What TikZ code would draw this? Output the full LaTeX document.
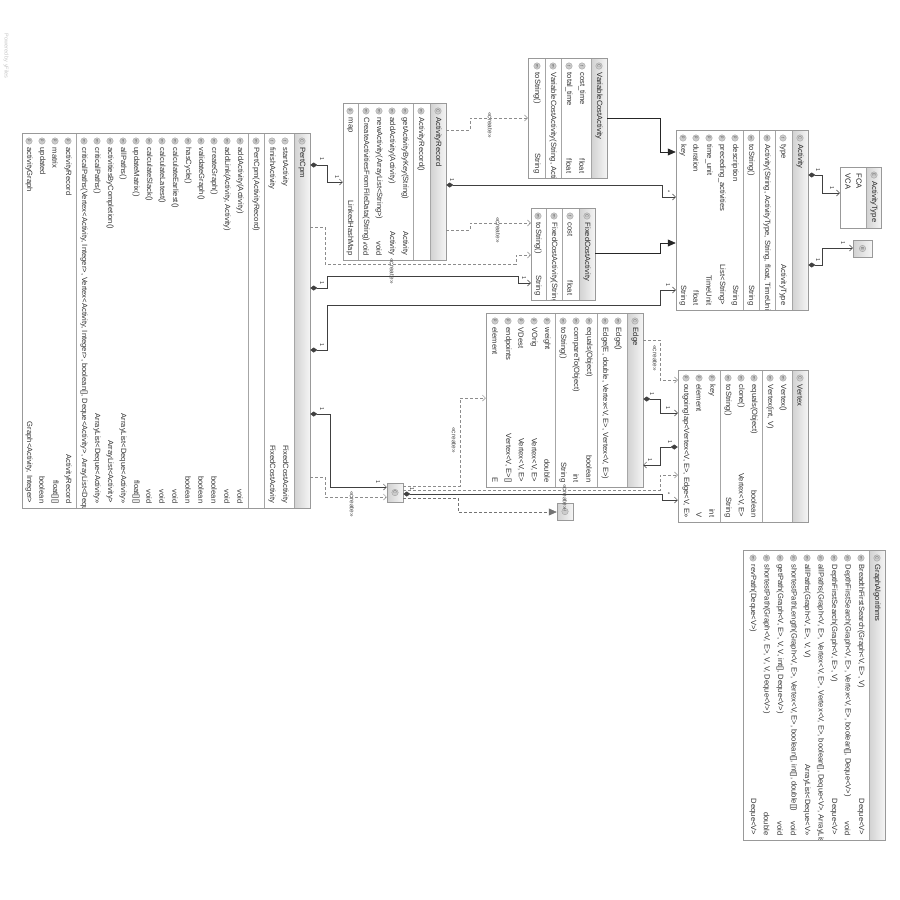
\documentclass[tikz,border=0pt]{standalone}
\usepackage{fontspec}
\setmainfont{Liberation Sans}
\usetikzlibrary{arrows.meta,fit}

\begin{document}
\begin{tikzpicture}[x=1pt,y=-1pt,font=\fontsize{7.6}{8.5}\selectfont,
  clsbox/.style={draw=black!40,fill=white,inner sep=0pt,line width=0.5pt},
  hdr/.style={left color=black!18,right color=black!4},
  sepline/.style={black!35,line width=0.4pt},
  ico/.style={circle,fill=black!20,draw=black!40,line width=0.3pt,inner sep=0pt,minimum size=6.5pt,
    font=\fontsize{4.2}{4.2}\selectfont,text=black!65,rotate=-90},
  nm/.style={rotate=-90,anchor=west,inner sep=0.5pt,fill=white,text=black!80},
  ty/.style={rotate=-90,anchor=east,inner sep=0.5pt,text=black!80},
  ttl/.style={rotate=-90,anchor=west,inner sep=0.5pt,text=black!85},
  assoc/.style={draw=black!75,line width=0.5pt,{Diamond[length=7pt,width=5pt]}-{Straight Barb[length=3pt,width=6pt]}},
  create/.style={draw=black!45,line width=0.5pt,dash pattern=on 3pt off 2pt,-{Straight Barb[length=3pt,width=6pt]}},
  inherit/.style={draw=black!85,line width=0.6pt,-{Triangle[length=8pt,width=7pt]}},
  realize/.style={draw=black!55,line width=0.5pt,dash pattern=on 3pt off 2pt,-{Triangle[length=8pt,width=7pt]}},
  mult/.style={rotate=-90,inner sep=0.5pt,font=\fontsize{5.5}{6}\selectfont,text=black!80},
  crlbl/.style={rotate=-90,inner sep=0.5pt,font=\fontsize{6.5}{7}\selectfont,text=black!70}]

\fill[white] (0,0) rectangle (900,900);
\useasboundingbox (0,0) rectangle (900,900);
\node[rotate=-90,anchor=west,text=black!22,font=\fontsize{5.5}{6}\selectfont] (yfiles) at (6,30) {Powered by yFiles};

% PertCpm
\node[clsbox,fit={(22,133) (310,508)}] (pert) {};
\begin{scope}
  \clip (22,133) rectangle (310,508);
  \fill[hdr] (294,133) rectangle (310,508);
  \foreach \s in {294,264,248,76} \draw[sepline] (\s,133) -- (\s,508);
  \node[ico] (pert-ic) at (302,141) {C};
  \node[ttl] (pert-tl) at (302,147) {PertCpm};
  \foreach \x/\i/\n/\t [count=\k] in {285/f/startActivity/FixedCostActivity,
      272/f/finishActivity/FixedCostActivity, 256/m/PertCpm(ActivityRecord)/{},
      240/m/addActivity(Activity)/void, 227/m/{addLink(Activity, Activity)}/void,
      214/m/createGraph()/boolean, 201/m/validateGraph()/boolean, 188/m/hasCycle()/boolean,
      175/m/calculateEarliest()/void, 162/m/calculateLatest()/void, 149/m/calculateSlack()/void,
      136/m/updateMatrix()/{float[][]}, 123/m/allPaths()/{ArrayList<Deque<Activity>>},
      110/m/activitiesByCompletion()/{ArrayList<Activity>}, 97/m/criticalPaths()/{ArrayList<Deque<Activity>>},
      84/m/{criticalPaths(Vertex<Activity, Integer>, Vertex<Activity, Integer>, boolean[], Deque<Activity>, ArrayList<Deque<Activity>>)}/void,
      68/p/activityRecord/ActivityRecord, 55/p/matrix/{float[][]}, 42/p/updated/boolean,
      29/p/activityGraph/{Graph<Activity, Integer>}}{
    \node[ty] (pert-t\k) at (\x,504) {\t};
    \node[ico] (pert-i\k) at (\x,141) {\i};
    \node[nm] (pert-n\k) at (\x,147) {\n};
  }
\end{scope}
\draw[black!40,line width=0.5pt] (pert.north west) rectangle (pert.south east);

% ActivityRecord
\node[clsbox,fit={(343,103) (446,260)}] (arec) {};
\begin{scope}
  \clip (343,103) rectangle (446,260);
  \fill[hdr] (430,103) rectangle (446,260);
  \foreach \s in {430,413,358} \draw[sepline] (\s,103) -- (\s,260);
  \node[ico] (arec-ic) at (438,111) {C};
  \node[ttl] (arec-tl) at (438,117) {ActivityRecord};
  \foreach \x/\i/\n/\t [count=\k] in {421/m/ActivityRecord()/{}, 405/m/getActivityByKey(String)/Activity,
      392/m/addActivity(Activity)/Activity, 379/m/newActivity(ArrayList<String>)/void,
      366/m/CreateActivitiesFromFileData(String)/void, 350/p/map/LinkedHashMap}{
    \node[ty] (arec-t\k) at (\x,256) {\t};
    \node[ico] (arec-i\k) at (\x,111) {\i};
    \node[nm] (arec-n\k) at (\x,117) {\n};
  }
\end{scope}
\draw[black!40,line width=0.5pt] (arec.north west) rectangle (arec.south east);

% VariableCostActivity
\node[clsbox,fit={(528,58) (607,178)}] (vca) {};
\begin{scope}
  \clip (528,58) rectangle (607,178);
  \fill[hdr] (591,58) rectangle (607,178);
  \foreach \s in {591,561,545} \draw[sepline] (\s,58) -- (\s,178);
  \node[ico] (vca-ic) at (599,66) {C};
  \node[ttl] (vca-tl) at (599,72) {VariableCostActivity};
  \foreach \x/\i/\n/\t [count=\k] in {582/f/cost\_time/float, 569/f/total\_time/float,
      553/m/{VariableCostActivity(String, ActivityType, String, float, TimeUnit, float, float)}/{},
      537/m/toString()/String}{
    \node[ty] (vca-t\k) at (\x,174) {\t};
    \node[ico] (vca-i\k) at (\x,66) {\i};
    \node[nm] (vca-n\k) at (\x,72) {\n};
  }
\end{scope}
\draw[black!40,line width=0.5pt] (vca.north west) rectangle (vca.south east);

% FixedCostActivity
\node[clsbox,fit={(531,208) (595,300)}] (fca) {};
\begin{scope}
  \clip (531,208) rectangle (595,300);
  \fill[hdr] (579,208) rectangle (595,300);
  \foreach \s in {579,562,546} \draw[sepline] (\s,208) -- (\s,300);
  \node[ico] (fca-ic) at (587,216) {C};
  \node[ttl] (fca-tl) at (587,222) {FixedCostActivity};
  \foreach \x/\i/\n/\t [count=\k] in {570/f/cost/float,
      554/m/{FixedCostActivity(String, ActivityType, String, float, TimeUnit, float)}/{},
      538/m/toString()/String}{
    \node[ty] (fca-t\k) at (\x,296) {\t};
    \node[ico] (fca-i\k) at (\x,216) {\i};
    \node[nm] (fca-n\k) at (\x,222) {\n};
  }
\end{scope}
\draw[black!40,line width=0.5pt] (fca.north west) rectangle (fca.south east);

% Activity
\node[clsbox,fit={(676,130) (808,310)}] (act) {};
\begin{scope}
  \clip (676,130) rectangle (808,310);
  \fill[hdr] (792,130) rectangle (808,310);
  \foreach \s in {792,775,759,743} \draw[sepline] (\s,130) -- (\s,310);
  \node[ico] (act-ic) at (800,138) {C};
  \node[ttl] (act-tl) at (800,144) {Activity};
  \foreach \x/\i/\n/\t [count=\k] in {783/f/type/ActivityType,
      767/m/{Activity(String, ActivityType, String, float, TimeUnit)}/{}, 751/m/toString()/String,
      735/p/description/String, 722/p/preceding\_activities/{List<String>}, 709/p/time\_unit/TimeUnit,
      696/p/duration/float, 683/p/key/String}{
    \node[ty] (act-t\k) at (\x,306) {\t};
    \node[ico] (act-i\k) at (\x,138) {\i};
    \node[nm] (act-n\k) at (\x,144) {\n};
  }
\end{scope}
\draw[black!40,line width=0.5pt] (act.north west) rectangle (act.south east);

% ActivityType
\node[clsbox,fit={(840,167) (881,228)}] (atype) {};
\begin{scope}
  \clip (840,167) rectangle (881,228);
  \fill[hdr] (866,167) rectangle (881,228);
  \draw[sepline] (866,167) -- (866,228);
  \node[ico] (atype-ic) at (874,175) {E};
  \node[ttl] (atype-tl) at (874,181) {ActivityType};
  \node[ttl] (atype-n1) at (859,173) {FCA};
  \node[ttl] (atype-n2) at (848,173) {VCA};
\end{scope}
\draw[black!40,line width=0.5pt] (atype.north west) rectangle (atype.south east);

% collapsed boxes
\node[clsbox,hdr,fit={(853,240) (872,257)}] (ebox) {};
\node[ico] (ebox-ic) at (ebox.center) {E};
\node[clsbox,hdr,fit={(387,483) (403,502)}] (gbox) {};
\node[ico] (gbox-ic) at (gbox.center) {C};
\node[clsbox,hdr,fit={(557,503) (573,520)}] (ibox) {};
\node[ico] (ibox-ic) at (ibox.center) {I};

% Edge
\node[clsbox,fit={(486,313) (643,487)}] (edge) {};
\begin{scope}
  \clip (486,313) rectangle (643,487);
  \fill[hdr] (627,313) rectangle (643,487);
  \foreach \s in {627,597,555} \draw[sepline] (\s,313) -- (\s,487);
  \node[ico] (edge-ic) at (635,321) {C};
  \node[ttl] (edge-tl) at (635,327) {Edge};
  \foreach \x/\i/\n/\t [count=\k] in {618/m/Edge()/{}, 605/m/{Edge(E, double, Vertex<V, E>, Vertex<V, E>)}/{},
      589/m/equals(Object)/boolean, 576/m/compareTo(Object)/int, 563/m/toString()/String,
      547/p/weight/double, 534/p/VOrig/{Vertex<V, E>}, 521/p/VDest/{Vertex<V, E>},
      508/p/endpoints/{Vertex<V, E>[]}, 495/p/element/E}{
    \node[ty] (edge-t\k) at (\x,483) {\t};
    \node[ico] (edge-i\k) at (\x,321) {\i};
    \node[nm] (edge-n\k) at (\x,327) {\n};
  }
\end{scope}
\draw[black!40,line width=0.5pt] (edge.north west) rectangle (edge.south east);

% Vertex
\node[clsbox,fit={(678,370) (808,522)}] (vtx) {};
\begin{scope}
  \clip (678,370) rectangle (808,522);
  \fill[hdr] (792,370) rectangle (808,522);
  \foreach \s in {792,762,720} \draw[sepline] (\s,370) -- (\s,522);
  \node[ico] (vtx-ic) at (800,378) {C};
  \node[ttl] (vtx-tl) at (800,384) {Vertex};
  \foreach \x/\i/\n/\t [count=\k] in {783/m/Vertex()/{}, 770/m/{Vertex(int, V)}/{},
      754/m/equals(Object)/boolean, 741/m/clone()/{Vertex<V, E>}, 728/m/toString()/String,
      712/p/key/int, 699/p/element/V, 686/p/outgoing/{Map<Vertex<V, E>, Edge<V, E>>}}{
    \node[ty] (vtx-t\k) at (\x,518) {\t};
    \node[ico] (vtx-i\k) at (\x,378) {\i};
    \node[nm] (vtx-n\k) at (\x,384) {\n};
  }
\end{scope}
\draw[black!40,line width=0.5pt] (vtx.north west) rectangle (vtx.south east);

% GraphAlgorithms
\node[clsbox,fit={(743,550) (885,840)}] (galg) {};
\begin{scope}
  \clip (743,550) rectangle (885,840);
  \fill[hdr] (869,550) rectangle (885,840);
  \draw[sepline] (869,550) -- (869,840);
  \node[ico] (galg-ic) at (877,558) {C};
  \node[ttl] (galg-tl) at (877,564) {GraphAlgorithms};
  \foreach \x/\n/\t [count=\k] in {861/{BreadthFirstSearch(Graph<V, E>, V)}/{Deque<V>},
      847.5/{DepthFirstSearch(Graph<V, E>, Vertex<V, E>, boolean[], Deque<V>)}/void,
      834/{DepthFirstSearch(Graph<V, E>, V)}/{Deque<V>},
      820.5/{allPaths(Graph<V, E>, Vertex<V, E>, Vertex<V, E>, boolean[], Deque<V>, ArrayList<Deque<V>>)}/void,
      807/{allPaths(Graph<V, E>, V, V)}/{ArrayList<Deque<V>>},
      793.5/{shortestPathLength(Graph<V, E>, Vertex<V, E>, boolean[], int[], double[])}/void,
      780/{getPath(Graph<V, E>, V, V, int[], Deque<V>)}/void,
      766.5/{shortestPath(Graph<V, E>, V, V, Deque<V>)}/double,
      753/{revPath(Deque<V>)}/{Deque<V>}}{
    \node[ty] (galg-t\k) at (\x,836) {\t};
    \node[ico] (galg-i\k) at (\x,558) {m};
    \node[nm] (galg-n\k) at (\x,564) {\n};
  }
\end{scope}
\draw[black!40,line width=0.5pt] (galg.north west) rectangle (galg.south east);

% connectors
\draw[assoc] (pert.east |- 0,165) -- ++(17,0) |- (arec.west |- 0,182);
\draw[create] (pert.east |- 0,227) -- ++(15,0) |- (516,264) |- (fca.west |- 0,255);
\draw[assoc] (pert.east |- 0,288) -- ++(17,0) |- (518,276) |- (fca.west |- 0,283);
\draw[assoc] (pert.east |- 0,350) -- ++(17,0) |- (660,305) |- (act.west |- 0,290);
\draw[assoc] (pert.east |- 0,414) -- ++(20,0) |- (gbox.west |- 0,487);
\draw[create] (pert.east |- 0,477) -- ++(15,0) |- (gbox.west |- 0,497);
\draw[create] (arec.east |- 0,130) -- ++(24,0) |- (vca.west |- 0,118);
\draw[assoc] (arec.east |- 0,185) -| (662,197) -- (act.west |- 0,197);
\draw[create] (arec.east |- 0,230) -- ++(24,0) |- (fca.west |- 0,223);
\draw[inherit] (vca.east |- 0,118) -| (660,152) -- (act.west |- 0,152);
\draw[inherit] (fca.east |- 0,253) -| (660,243) -- (act.west |- 0,243);
\draw[assoc] (act.east |- 0,175) -| (822,193) -- (atype.west |- 0,193);
\draw[assoc] (act.east |- 0,265) -| (822,248) -- (ebox.west |- 0,248);
\draw[create] (gbox.east |- 0,486) -| (460,398) -- (edge.west |- 0,398);
\draw[create] (gbox.east |- 0,490) -| (660,475) -- (vtx.west |- 0,475);
\draw[assoc] (gbox.east |- 0,494) -| (662,500) -- (vtx.west |- 0,500);
\draw[realize] (gbox.east |- 0,498) -| (458,512) -- (ibox.west |- 0,512);
\draw[create] (edge.east |- 0,340) -| (660,380) -- (vtx.west |- 0,380);
\draw[assoc] (edge.east |- 0,399) -| (660,413) -- (vtx.west |- 0,413);
\draw[assoc] (vtx.west |- 0,447) -| (660,465) -- (edge.east |- 0,465);

% multiplicities and labels
\node[mult] (m1) at (322,159) {1};
\node[mult] (m2) at (337,177) {1};
\node[mult] (m3) at (322,283) {1};
\node[mult] (m4) at (524,278) {1};
\node[mult] (m5) at (322,345) {1};
\node[mult] (m6) at (668,285) {1};
\node[mult] (m7) at (322,409) {1};
\node[mult] (m8) at (378,482) {1};
\node[mult] (m9) at (452,180) {1};
\node[mult] (m10) at (668,192) {*};
\node[mult] (m11) at (412,489) {1};
\node[mult] (m12) at (668,494) {*};
\node[mult] (m13) at (652,394) {1};
\node[mult] (m14) at (668,408) {1};
\node[mult] (m15) at (670,442) {1};
\node[mult] (m16) at (650,460) {1};
\node[mult] (m17) at (818,170) {1};
\node[mult] (m18) at (832,188) {1};
\node[mult] (m19) at (818,260) {1};
\node[mult] (m20) at (843,243) {1};
\node[crlbl] (c1) at (392,271) {«create»};
\node[crlbl] (c2) at (490,125) {«create»};
\node[crlbl] (c3) at (498,230) {«create»};
\node[crlbl] (c4) at (352,504) {«create»};
\node[crlbl] (c5) at (454,440) {«create»};
\node[crlbl] (c6) at (565,497) {«create»};
\node[crlbl] (c7) at (655,358) {«create»};
\end{tikzpicture}
\end{document}
